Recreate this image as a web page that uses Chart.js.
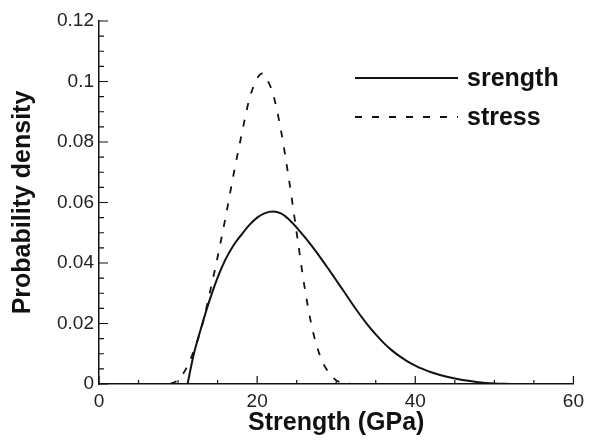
<!DOCTYPE html>
<html>
<head>
<meta charset="utf-8">
<script src="https://cdn.jsdelivr.net/npm/chart.js@4/dist/chart.umd.min.js"></script>
<style>
  html, body { margin: 0; padding: 0; background: #fff; }
  #wrap { width: 590px; height: 441px; }
</style>
</head>
<body>
<div id="wrap"><canvas id="pdfChart" width="590" height="441"></canvas></div>
<script>
// values
const strengthX = [11.2, 11.6, 12, 13, 14, 15, 16, 17, 18, 19, 20, 21, 22, 23, 24, 25, 26, 27, 28, 29, 30, 31, 32, 33, 34, 35, 36, 37, 38, 39, 40, 41, 42, 44, 46, 48, 50, 52];
const strengthY = [0, 0.0052, 0.0100, 0.0193, 0.0278, 0.0352, 0.0412, 0.0458, 0.0493, 0.0525, 0.0550, 0.0565, 0.0570, 0.0564, 0.0545, 0.0517, 0.0486, 0.0453, 0.0418, 0.0381, 0.0343, 0.0305, 0.0266, 0.0229, 0.0195, 0.0164, 0.0136, 0.0112, 0.0092, 0.0075, 0.0061, 0.0049, 0.0039, 0.0024, 0.0013, 0.0006, 0.0002, 0];

const stressX = [9, 10, 11, 12, 13, 14, 15, 16, 17, 18, 19, 20, 20.7, 21, 22, 23, 24, 25, 26, 27, 28, 29, 30, 31, 32];
const stressY = [0, 0.0013, 0.005, 0.011, 0.019, 0.030, 0.042, 0.055, 0.069, 0.082, 0.094, 0.101, 0.1027, 0.1017, 0.096, 0.084, 0.068, 0.050, 0.032, 0.018, 0.009, 0.004, 0.0012, 0.0003, 0];

const seriesLabels = ['srength', 'stress'];
const xTicks = [0, 20, 40, 60];
const yTicks = [0, 0.02, 0.04, 0.06, 0.08, 0.1, 0.12];

const ink = '#111';

function toPoints(xs, ys) {
    return xs.map((x, i) => ({ x: x, y: ys[i] }));
}

// inside tick marks (major + minor), like the original plot
const insideTicks = {
    id: 'insideTicks',
    afterDraw(chart) {
        const { ctx, scales: { x, y } } = chart;
        ctx.save();
        ctx.strokeStyle = ink;
        ctx.lineWidth = 1.2;
        ctx.beginPath();
        for (let v = 0; v <= 60.001; v += 5) {
            const px = x.getPixelForValue(v);
            const len = (Math.round(v) % 20 === 0) ? 8 : 4;
            ctx.moveTo(px, y.bottom);
            ctx.lineTo(px, y.bottom - len);
        }
        for (let i = 0; i <= 24; i++) {
            const py = y.getPixelForValue(i * 0.005);
            const len = (i % 4 === 0) ? 9 : 5;
            ctx.moveTo(x.left, py);
            ctx.lineTo(x.left + len, py);
        }
        ctx.stroke();
        ctx.restore();
    }
};

// legend drawn inside the plot, long line samples on the left of the text
const lineLegend = {
    id: 'lineLegend',
    afterDraw(chart) {
        const { ctx } = chart;
        const rows = [78, 117];
        ctx.save();
        chart.data.datasets.forEach((ds, i) => {
            ctx.strokeStyle = ds.borderColor;
            ctx.lineWidth = ds.borderWidth;
            ctx.setLineDash(ds.borderDash || []);
            ctx.beginPath();
            ctx.moveTo(355, rows[i]);
            ctx.lineTo(458, rows[i]);
            ctx.stroke();
            ctx.setLineDash([]);
            ctx.fillStyle = ink;
            ctx.font = 'bold 25px "Liberation Sans", Arial, sans-serif';
            ctx.textAlign = 'left';
            ctx.textBaseline = 'middle';
            ctx.fillText(ds.label, 467, rows[i] + 1);
        });
        ctx.restore();
    }
};

const ctx = document.getElementById('pdfChart').getContext('2d');
new Chart(ctx, {
    type: 'line',
    data: {
        datasets: [{
            label: seriesLabels[0],
            data: toPoints(strengthX, strengthY),
            borderColor: ink,
            borderWidth: 2,
            pointRadius: 0,
            fill: false,
            cubicInterpolationMode: 'monotone'
        }, {
            label: seriesLabels[1],
            data: toPoints(stressX, stressY),
            borderColor: ink,
            borderWidth: 1.8,
            borderDash: [7, 10],
            pointRadius: 0,
            fill: false,
            cubicInterpolationMode: 'monotone'
        }]
    },
    options: {
        responsive: false,
        animation: false,
        layout: { padding: { top: 21, right: 12, left: 0, bottom: 0 } },
        plugins: {
            legend: { display: false },
            tooltip: { enabled: false }
        },
        scales: {
            x: {
                type: 'linear',
                min: 0,
                max: 60,
                afterBuildTicks: (scale) => { scale.ticks = xTicks.map(v => ({ value: v })); },
                afterFit: (scale) => { scale.height = 57; },
                grid: { drawOnChartArea: false, drawTicks: false },
                border: { display: true, color: ink, width: 1.5 },
                ticks: {
                    color: '#222',
                    padding: 6,
                    font: { family: '"Liberation Sans", Arial, sans-serif', size: 19 }
                },
                title: {
                    display: true,
                    text: 'Strength (GPa)',
                    color: ink,
                    padding: { top: 0, bottom: 3 },
                    font: { family: '"Liberation Sans", Arial, sans-serif', size: 25, weight: 'bold' }
                }
            },
            y: {
                type: 'linear',
                min: 0,
                max: 0.12,
                afterBuildTicks: (scale) => { scale.ticks = yTicks.map(v => ({ value: v })); },
                afterFit: (scale) => { scale.width = 99; },
                grid: { drawOnChartArea: false, drawTicks: false },
                border: { display: true, color: ink, width: 1.5 },
                ticks: {
                    color: '#222',
                    padding: 5,
                    font: { family: '"Liberation Sans", Arial, sans-serif', size: 19 },
                    callback: (v) => String(Number(v.toFixed(2)))
                },
                title: {
                    display: true,
                    text: 'Probability density',
                    color: ink,
                    padding: { top: 8, bottom: 0 },
                    font: { family: '"Liberation Sans", Arial, sans-serif', size: 25, weight: 'bold' }
                }
            }
        }
    },
    plugins: [insideTicks, lineLegend]
});
</script>
</body>
</html>
